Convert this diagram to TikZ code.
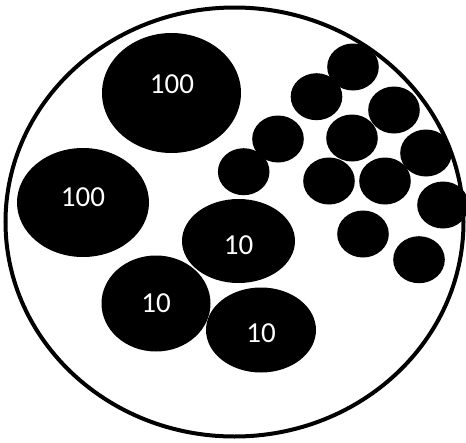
\documentclass[tikz,border=0pt]{standalone}
\usepackage{fontspec}
\setmainfont{Carlito}
\usetikzlibrary{positioning}

\begin{document}
\begin{tikzpicture}[
    x=1pt, y=-1pt,
    % --- Styles ---
    % Style for the outer ring
    ring/.style={draw=black, line width=4pt},
    % Style for the black blobs
    blob/.style={fill=black},
    % Style for the white numbers
    num-label/.style={text=white, inner sep=0pt,
        font=\fontsize{29}{31}\selectfont}
]
\useasboundingbox (0,0) rectangle (466,442);

% --- Outer circle ---
\draw[ring] (234.5,222) ellipse [x radius=229, y radius=214.5];

% --- Big blobs (100) ---
\fill[blob] (171.5,93) ellipse [x radius=69.5, y radius=60];
\fill[blob] (83,202.5) ellipse [x radius=66, y radius=54.5];
\node[num-label] (big-top) at (172,84) {100};
\node[num-label] (big-left) at (83,197) {100};

% --- Medium blobs (10) ---
\fill[blob] (238.5,241) ellipse [x radius=56.5, y radius=42];
\fill[blob] (156,303.5) ellipse [x radius=54.5, y radius=48];
\fill[blob] (261,330) ellipse [x radius=55, y radius=42.5];
\node[num-label] (mid-a) at (238.5,245.5) {10};
\node[num-label] (mid-b) at (156,303) {10};
\node[num-label] (mid-c) at (261,333) {10};

% --- Small blobs ---
\foreach \cx/\cy in {353/67, 316.5/96.7, 394/110, 278/139, 352/138,
    243.7/171.7, 426/153, 329/181, 385/181, 443/205, 363/234, 419/259.7} {
    \fill[blob] (\cx,\cy) ellipse [x radius=25.8, y radius=23.5];
}

\end{tikzpicture}
\end{document}
